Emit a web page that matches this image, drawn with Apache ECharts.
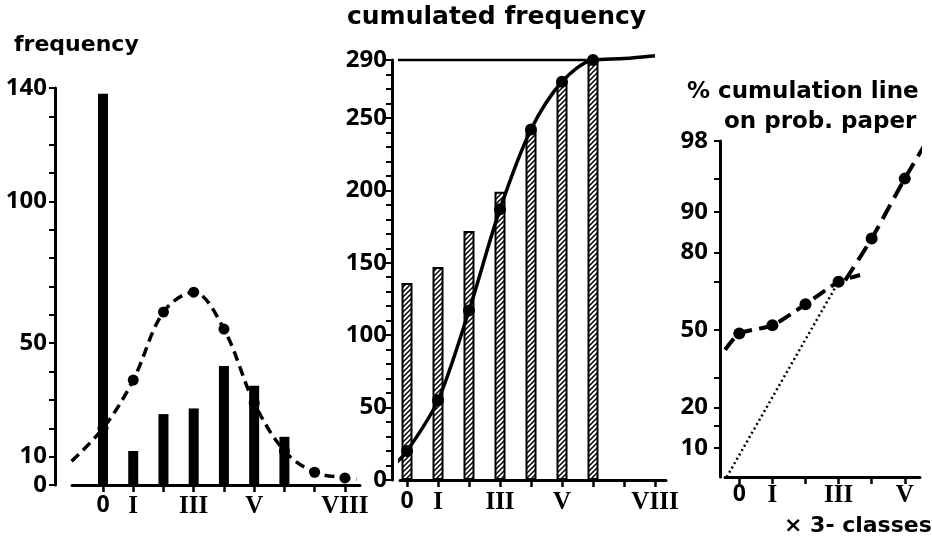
<!DOCTYPE html>
<html><head><meta charset="utf-8">
<script src="https://cdn.jsdelivr.net/npm/echarts@6/dist/echarts.min.js"></script>
<style>html,body{margin:0;padding:0;background:#fff}#c{width:932px;height:544px}</style>
</head><body><div id="c"></div>
<script>
// ---------- DATA ----------
const romanLabels = ['0','I','II','III','IV','V','VI','VII','VIII'];
const classTicks = [0,1,2,3,4,5,6,7,8];
const classLabels = [0,1,3,5,8];
const classTicks3 = [0,1,2,3,4,5];
const classLabels3 = [0,1,3,5];

// panel 1 : frequency
const freqBarClass = [0,1,2,3,4,5,6];
const freqBars = [138,12,25,27,42,35,17];
const normalDots = [20,37,61,68,55,29,12,4.5,2.5];
const normalTailLeft = [-1.42,4.5];
const normalTailRight = [8.4,2];
const freqTicks = [0,10,20,30,40,50,60,70,80,90,100,110,120,130,140];
const freqLabels = [0,10,50,100,140];

// panel 2 : cumulated frequency
const cumBars = [136,147,172,199,242,275,291];
const cumDots = [20,55,117,187,242,275,290,291,293];
const cumTailLeft = [-0.49,9];
const cumTopLine = 290;
const cumTopSpan = [-0.3,5.8];
const cumTicks = [0,10,20,30,40,50,60,70,80,90,100,110,120,130,140,150,160,170,180,190,200,210,220,230,240,250,260,270,280,290];
const cumLabels = [0,50,100,150,200,250,290];

// panel 3 : % cumulation on probability paper
const probDots = [48.5,52,61,70,84,95];
const probLowerStart = [-0.43,41.5];
const probLowerEnd = [3.65,72.5];
const probUpperStart = [3.2,70.5];
const probUpperEnd = [5.78,98.3];
const probDotted = [[-0.38,5.5],[3,70]];
const probTicks = [10,15,20,30,50,70,80,90,95,98];
const probLabels = [10,20,50,80,90,98];
const probMin = 5.5, probMax = 98;

// ---------- HELPERS ----------
function probit(pct){ // inverse normal CDF (Acklam)
  const p = pct/100;
  const a=[-39.69683028665376,220.9460984245205,-275.9285104469687,138.3577518672690,-30.66479806614716,2.506628277459239];
  const b=[-54.47609879822406,161.5858368580409,-155.6989798598866,66.80131188771972,-13.28068155288572];
  const c=[-0.007784894002430293,-0.3223964580411365,-2.400758277161838,-2.549732539343734,4.374664141464968,2.938163982698783];
  const d=[0.007784695709041462,0.3224671290700398,2.445134137142996,3.754408661907416];
  const pl=0.02425, ph=1-pl; let q,r;
  if(p<pl){q=Math.sqrt(-2*Math.log(p));return (((((c[0]*q+c[1])*q+c[2])*q+c[3])*q+c[4])*q+c[5])/((((d[0]*q+d[1])*q+d[2])*q+d[3])*q+1);}
  if(p<=ph){q=p-0.5;r=q*q;return (((((a[0]*r+a[1])*r+a[2])*r+a[3])*r+a[4])*r+a[5])*q/(((((b[0]*r+b[1])*r+b[2])*r+b[3])*r+b[4])*r+1);}
  q=Math.sqrt(-2*Math.log(1-p));return -(((((c[0]*q+c[1])*q+c[2])*q+c[3])*q+c[4])*q+c[5])/((((d[0]*q+d[1])*q+d[2])*q+d[3])*q+1);
}
function hatch(){
  const s=5, cv=document.createElement('canvas'); cv.width=s; cv.height=s;
  const g=cv.getContext('2d'); g.fillStyle='#fff'; g.fillRect(0,0,s,s);
  g.strokeStyle='#000'; g.lineWidth=1.5; g.lineCap='square';
  g.beginPath(); g.moveTo(-1,s+1); g.lineTo(s+1,-1);
  g.moveTo(-1,1); g.lineTo(1,-1); g.moveTo(s-1,s+1); g.lineTo(s+1,s-1); g.stroke();
  return cv;
}
const FS = 'DejaVu Sans';
const FN = "'Noto Sans', sans-serif";
const FR = 'Liberation Serif';
const roman = v => { const r = romanLabels[Math.round(v)]; return r === '0' ? '{z|0}' : r; };
const lineStyleAxis = {color:'#000', width:3};
function xAx(grid, min, max, ticks, labels, margin){
  return {type:'value', gridIndex:grid, min:min, max:max,
    axisLine:{show:true, onZero:false, lineStyle:lineStyleAxis},
    axisTick:{show:true, customValues:ticks, length:7, lineStyle:{color:'#000', width:2.5}},
    axisLabel:{customValues:labels, formatter:roman, margin:margin, color:'#000', fontFamily:FR, fontWeight:'bold', fontSize:25,
      rich:{z:{fontFamily:FN, fontWeight:'bold', fontSize:23, color:'#000'}}},
    splitLine:{show:false}};
}
function yAx(grid, min, max, offset, ticks, labels, fmt, margin){
  return {type:'value', gridIndex:grid, min:min, max:max, offset:offset,
    axisLine:{show:true, onZero:false, lineStyle:lineStyleAxis},
    axisTick:{show:true, customValues:ticks, length:6, lineStyle:{color:'#000', width:2}},
    axisLabel:{customValues:labels, formatter:fmt, margin:margin, color:'#000', fontFamily:FN, fontWeight:'bold', fontSize:24},
    splitLine:{show:false}};
}

// ---------- BUILD SERIES DATA ----------
const freqBarData = freqBarClass.map((c,i)=>[c,freqBars[i]]);
const normalDotData = classTicks.map((c,i)=>[c,normalDots[i]]);
const normalCurve = [normalTailLeft].concat(normalDotData).concat([normalTailRight]);
const cumBarData = freqBarClass.map((c,i)=>[c,cumBars[i]]);
const cumDotData = classTicks.map((c,i)=>[c,cumDots[i]]);
const cumCurve = [cumTailLeft].concat(cumDotData);
const probDotData = classTicks3.map((c,i)=>[c,probit(probDots[i])]);
const P = pt => [pt[0], probit(pt[1])];
const probLower = [P(probLowerStart)].concat(probDotData.slice(0,4)).concat([P(probLowerEnd)]);
const probUpper = [P(probUpperStart)].concat(probDotData.slice(4)).concat([P(probUpperEnd)]);
const probDottedData = probDotted.map(P);

const titleStyle = (size) => ({fontFamily:FS, fontSize:size, fontWeight:'bold', color:'#000'});
const chart = echarts.init(document.getElementById('c'), null, {renderer:'canvas'});
chart.setOption({
  backgroundColor:'#fff',
  animation:false,
  title:[
    {text:'frequency', left:14, top:34, padding:0, textStyle:titleStyle(22)},
    {text:'cumulated frequency', left:347, top:5, padding:0, textStyle:titleStyle(25)},
    {text:'% cumulation line', left:687, top:81, padding:0, textStyle:titleStyle(23)},
    {text:'on prob. paper', left:724, top:111, padding:0, textStyle:titleStyle(23)},
    {text:'× 3- classes', left:784, top:515, padding:0, textStyle:titleStyle(22)}
  ],
  grid:[
    {left:72, top:88, width:288, height:397},
    {left:400, top:60, width:266, height:420},
    {left:725, top:141, width:195, height:336}
  ],
  xAxis:[
    xAx(0, -1.025, 8.5, classTicks, classLabels, 9),
    xAx(1, -0.226, 8.355, classTicks, classLabels, 10),
    xAx(2, -0.432, 5.46, classTicks3, classLabels3, 6)
  ],
  yAxis:[
    yAx(0, 0, 140, 17, freqTicks, freqLabels, v=>String(v), 8),
    yAx(1, 0, 290, 8, cumTicks, cumLabels, v=>String(v), 5),
    yAx(2, probit(probMin), probit(probMax), 5, probTicks.map(probit), probLabels.map(probit),
        v=>{for(const p of probLabels){if(Math.abs(probit(p)-v)<1e-6)return String(p);}return '';}, 12)
  ],
  series:[
    // panel 1
    {type:'bar', xAxisIndex:0, yAxisIndex:0, data:freqBarData, barWidth:10, itemStyle:{color:'#000'}, z:2},
    {type:'line', xAxisIndex:0, yAxisIndex:0, data:normalCurve, smooth:0.35, symbol:'none', clip:false,
     lineStyle:{color:'#000', width:3.5, type:[10,6]}, z:3},
    {type:'scatter', xAxisIndex:0, yAxisIndex:0, data:normalDotData, symbolSize:11, itemStyle:{color:'#000', opacity:1}, z:4},
    // panel 2
    {type:'bar', xAxisIndex:1, yAxisIndex:1, data:cumBarData, barWidth:11,
     itemStyle:{color:{image:hatch(), repeat:'repeat'}, borderColor:'#000', borderWidth:2}, z:2},
    {type:'line', xAxisIndex:1, yAxisIndex:1, data:[[cumTopSpan[0],cumTopLine],[cumTopSpan[1],cumTopLine]], symbol:'none', clip:false,
     lineStyle:{color:'#000', width:2.5}, z:3},
    {type:'line', xAxisIndex:1, yAxisIndex:1, data:cumCurve, smooth:0.3, symbol:'none', clip:false,
     lineStyle:{color:'#000', width:3.5}, z:3},
    {type:'scatter', xAxisIndex:1, yAxisIndex:1, data:cumDotData, symbolSize:12, itemStyle:{color:'#000', opacity:1}, z:4},
    // panel 3
    {type:'line', xAxisIndex:2, yAxisIndex:2, data:probDottedData, symbol:'none', clip:false,
     lineStyle:{color:'#000', width:2.5, type:[2,3]}, z:3},
    {type:'line', xAxisIndex:2, yAxisIndex:2, data:probLower, smooth:0.2, symbol:'none', clip:false,
     lineStyle:{color:'#000', width:4, type:[14,7]}, z:3},
    {type:'line', xAxisIndex:2, yAxisIndex:2, data:probUpper, smooth:0.2, symbol:'none', clip:false,
     lineStyle:{color:'#000', width:4, type:[16,8]}, z:3},
    {type:'scatter', xAxisIndex:2, yAxisIndex:2, data:probDotData, symbolSize:12, itemStyle:{color:'#000', opacity:1}, z:4}
  ]
});
</script></body></html>
